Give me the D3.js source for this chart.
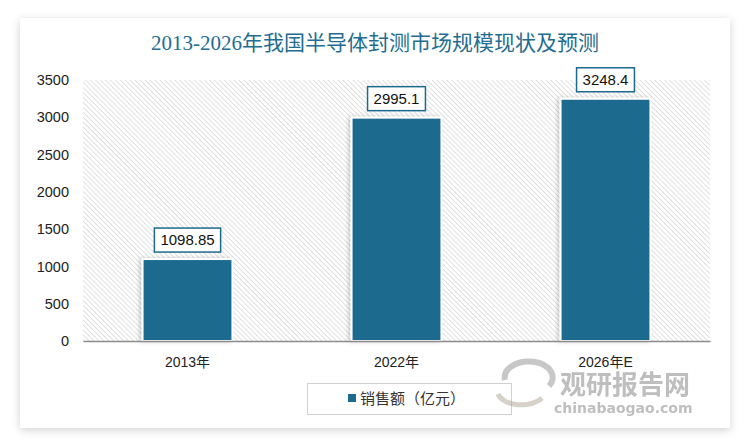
<!DOCTYPE html>
<html><head><meta charset="utf-8">
<script src="https://cdn.jsdelivr.net/npm/d3@7"></script>
<style>
body{margin:0;background:#fff;}
svg{display:block;}
</style></head>
<body>
<svg id="c" width="750" height="445"></svg>
<script>
const categories = ["2013年", "2022年", "2026年E"];
const values = [1098.85, 2995.1, 3248.4];
const valueLabels = ["1098.85", "2995.1", "3248.4"];
const yTicks = [0, 500, 1000, 1500, 2000, 2500, 3000, 3500];
const titleText = "2013-2026年我国半导体封测市场规模现状及预测";
const seriesName = "销售额（亿元）";

(function(){
const svg = d3.select("#c");
const defs = svg.append("defs");
const cf = defs.append("filter").attr("id","card").attr("x","-5%").attr("y","-5%").attr("width","110%").attr("height","110%");
cf.append("feDropShadow").attr("dx",0).attr("dy",2).attr("stdDeviation",4).attr("flood-color","#000").attr("flood-opacity",0.18);
const bf = defs.append("filter").attr("id","bsh").attr("x","-20%").attr("y","-20%").attr("width","140%").attr("height","140%");
bf.append("feDropShadow").attr("dx",-2).attr("dy",0).attr("stdDeviation",2).attr("flood-color","#000").attr("flood-opacity",0.2);
const pat = defs.append("pattern").attr("id","hatch").attr("patternUnits","userSpaceOnUse")
  .attr("width",3.5).attr("height",3.5).attr("patternTransform","rotate(-45)");
pat.append("rect").attr("width",3.5).attr("height",3.5).attr("fill","#fff");
pat.append("line").attr("x1",0).attr("y1",0).attr("x2",0).attr("y2",3.5).attr("stroke","#d4d4d4").attr("stroke-width",1.4);

// card
svg.append("rect").attr("x",20).attr("y",18).attr("width",710).attr("height",410)
  .attr("fill","#fff").attr("filter","url(#card)");

svg.append("text").attr("x",375).attr("y",50).attr("text-anchor","middle")
  .attr("font-family","'Liberation Serif','Noto Sans CJK SC',serif").attr("font-size",21)
  .attr("fill","#236d90").text(titleText);

const pL = 83, pR = 710, pT = 80, pB = 341;
const x = d3.scaleBand().domain(categories).range([pL,pR]).paddingInner(0.57).paddingOuter(0.285);
const y = d3.scaleLinear().domain([0,3500]).range([pB,pT]);

svg.append("rect").attr("x",pL).attr("y",pT).attr("width",pR-pL).attr("height",pB-pT).attr("fill","url(#hatch)");

// y axis
const ya = svg.append("g").attr("transform",`translate(${pL},0)`)
  .call(d3.axisLeft(y).tickValues(yTicks).tickFormat(d3.format("d")).tickSize(0).tickPadding(14));
ya.select(".domain").remove();
ya.selectAll("text").attr("font-family","'Liberation Sans','Noto Sans',sans-serif").attr("font-size",14.5).attr("fill","#222");

// bars
svg.append("g").selectAll("rect").data(values).join("rect")
  .attr("x",(d,i)=>x(categories[i])).attr("y",d=>y(d))
  .attr("width",x.bandwidth()).attr("height",d=>pB-y(d))
  .attr("fill","#1c6a8e").attr("stroke","#fff").attr("stroke-width",2).attr("filter","url(#bsh)");

// x axis
const xa = svg.append("g").attr("transform",`translate(0,${pB})`)
  .call(d3.axisBottom(x).tickSize(0).tickPadding(16));
xa.select(".domain").attr("stroke","#8c8c8c").attr("stroke-width",1.5);
xa.selectAll("text").attr("font-family","'Liberation Sans','Noto Sans CJK SC',sans-serif").attr("font-size",14).attr("fill","#222");

// labels
const lg = svg.append("g").selectAll("g").data(values).join("g")
  .attr("transform",(d,i)=>`translate(${x(categories[i])+x.bandwidth()/2},${y(d)-19})`);
lg.each(function(d,i){
  const g = d3.select(this);
  const t = g.append("text").attr("text-anchor","middle").attr("dy","0.35em")
    .attr("font-family","'Liberation Sans','Noto Sans',sans-serif").attr("font-size",15).attr("fill","#111").text(valueLabels[i]);
  const w = t.node().getComputedTextLength();
  g.insert("rect","text").attr("x",-w/2-6).attr("y",-12).attr("width",w+12).attr("height",24)
    .attr("fill","#fff").attr("stroke","#1c6a8e").attr("stroke-width",1.5);
});

// legend
const leg = svg.append("g");
leg.append("rect").attr("x",307.5).attr("y",383.5).attr("width",204).attr("height",31).attr("fill","#fff").attr("stroke","#d0d0d0");
leg.append("rect").attr("x",348).attr("y",394).attr("width",8).attr("height",8).attr("fill","#1c6a8e");
leg.append("text").attr("x",360).attr("y",404).attr("font-family","'Noto Sans CJK SC',sans-serif").attr("font-size",15).attr("fill","#333").text(seriesName);

// watermark
const wm = svg.append("g").attr("opacity",0.55);
wm.append("path").attr("d","M505,380 a24,16 0 1,1 44,6").attr("fill","none").attr("stroke","#9a9a9a").attr("stroke-width",6);
wm.append("path").attr("d","M498,394 a24,14 0 0,0 44,4").attr("fill","none").attr("stroke","#b5ad9d").attr("stroke-width",5);
wm.append("text").attr("x",560).attr("y",394).attr("font-family","'Noto Sans CJK SC',sans-serif").attr("font-weight","bold").attr("font-size",26).attr("fill","#8a8a8a").text("观研报告网");
wm.append("text").attr("x",554).attr("y",413).attr("font-family","'DejaVu Sans',sans-serif").attr("font-weight","bold").attr("font-size",14).attr("fill","#8a8a8a").text("chinabaogao.com");
})();
</script>
</body></html>
